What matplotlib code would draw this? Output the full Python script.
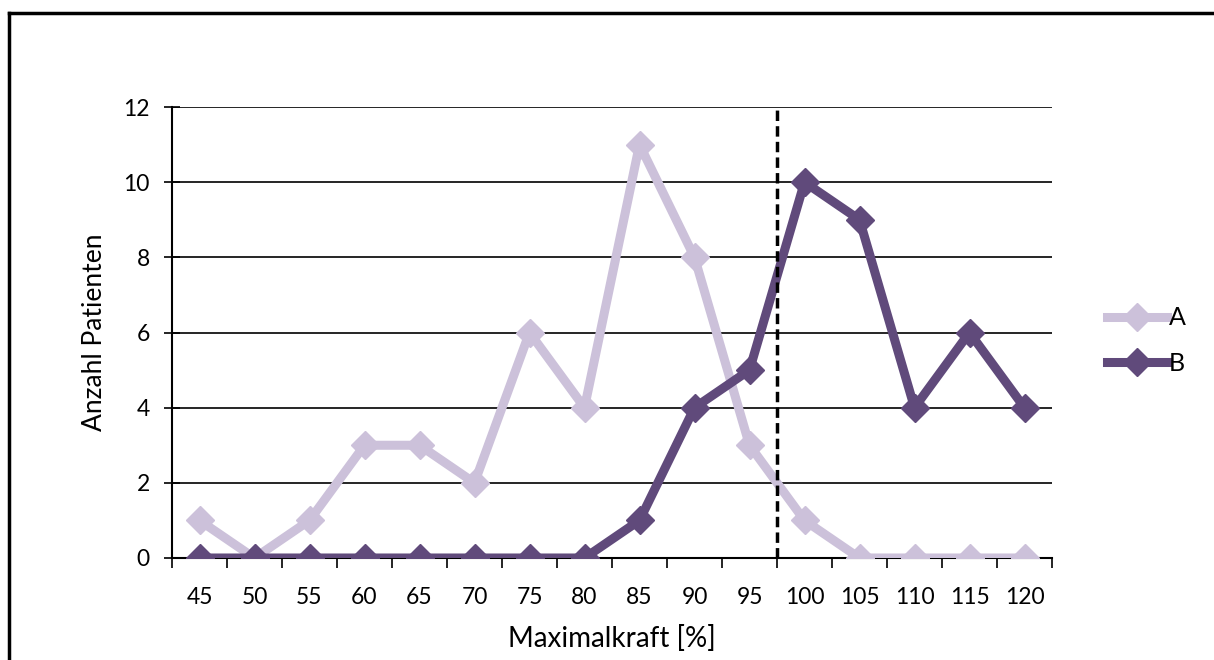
import matplotlib.pyplot as plt
import numpy as np

plt.rcParams['font.family'] = ['Lato', 'DejaVu Sans']

categories = ["45", "50", "55", "60", "65", "70", "75", "80",
              "85", "90", "95", "100", "105", "110", "115", "120"]
series_a = [1, 0, 1, 3, 3, 2, 6, 4, 11, 8, 3, 1, 0, 0, 0, 0]
series_b = [0, 0, 0, 0, 0, 0, 0, 0, 1, 4, 5, 10, 9, 4, 6, 4]
cutoff_pos = 10.5  # between 95 and 100

fig = plt.figure(figsize=(12.14, 6.6), dpi=100)
ax = fig.add_axes([172 / 1214, 1 - 558 / 660, 880 / 1214, 451 / 660])

x = np.arange(len(categories))
ax.plot(x, series_a, color="#CCC1DA", lw=6.5, marker="D", ms=14,
        label="A", zorder=3)
ax.plot(x, series_b, color="#604A7B", lw=6.5, marker="D", ms=14,
        label="B", zorder=4)

ax.axvline(cutoff_pos, color="black", lw=2.5, ls=(0, (3, 1.5)), zorder=5)

ax.set_xlim(-0.5, len(categories) - 0.5)
ax.set_ylim(0, 12)
ax.set_yticks(range(0, 13, 2))
ax.yaxis.grid(True, color="black", lw=1.2)
ax.set_axisbelow(True)

ax.set_xticks(x)
ax.set_xticklabels(categories)
ax.set_xticks(np.arange(-0.5, len(categories), 1), minor=True)
ax.tick_params(axis="x", which="major", length=0, labelsize=16.5, pad=21)
ax.tick_params(axis="x", which="minor", length=7, width=1.2, direction="out")
ax.tick_params(axis="y", length=12, width=1.2, direction="inout",
               labelsize=16.5, pad=10)

for s in ["top", "right"]:
    ax.spines[s].set_visible(False)
for s in ["left", "bottom"]:
    ax.spines[s].set_linewidth(1.5)

ax.set_xlabel("Maximalkraft [%]", fontsize=20, labelpad=12)
ax.set_ylabel("Anzahl Patienten", fontsize=19, labelpad=12)

ax.legend(loc="center left", bbox_to_anchor=(1.063, 0.482), frameon=False,
          fontsize=18, handlelength=2.4, handletextpad=0.05,
          labelspacing=0.9, borderpad=0, borderaxespad=0)

# frame around the chart area (only top and left visible in the reference)
fig.add_artist(plt.Line2D([9 / 1214, 1], [1 - 13 / 660, 1 - 13 / 660],
                          color="black", lw=2.5, transform=fig.transFigure))
fig.add_artist(plt.Line2D([9 / 1214, 9 / 1214], [0, 1 - 13 / 660],
                          color="black", lw=2.5, transform=fig.transFigure))

fig.savefig("out.png", dpi=100)
